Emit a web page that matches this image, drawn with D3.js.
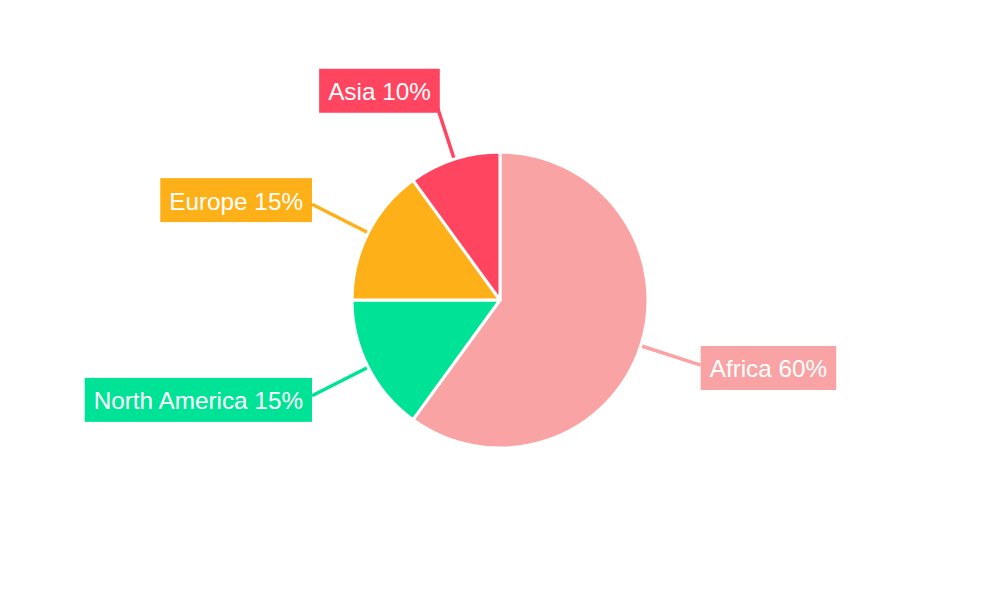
<!DOCTYPE html>
<html>
<head>
<meta charset="utf-8">
<script src="https://cdn.jsdelivr.net/npm/d3@7/dist/d3.min.js"></script>
<style>
  html, body { margin: 0; padding: 0; background: #fff; }
  svg { display: block; font-family: "Liberation Sans", Arial, sans-serif; }
</style>
</head>
<body>
<svg id="chart" width="1000" height="600"></svg>
<script>
const categories = ["Africa", "North America", "Europe", "Asia"];
const values = [60, 15, 15, 10];
const colors = ["#F9A3A4", "#00E396", "#FEB019", "#FF4560"];

const svg = d3.select("#chart");
const cx = 500, cy = 300, R = 148;
const lineR = 211, labelYR = 220;
const fontSize = 24.3, padX = 9, boxH = 44;

const data = categories.map((c, i) => ({ name: c, value: values[i], color: colors[i] }));
const pie = d3.pie().sort(null).value(d => d.value).startAngle(0).endAngle(2 * Math.PI);
const arcs = pie(data);

const g = svg.append("g").attr("transform", `translate(${cx},${cy})`);
const arc = d3.arc().innerRadius(0).outerRadius(R);
const edgeArc = d3.arc().innerRadius(R).outerRadius(R);
const lineArc = d3.arc().innerRadius(lineR).outerRadius(lineR);

// connector lines
g.selectAll("line.conn").data(arcs).join("line")
  .attr("class", "conn")
  .attr("x1", d => edgeArc.centroid(d)[0])
  .attr("y1", d => edgeArc.centroid(d)[1])
  .attr("x2", d => lineArc.centroid(d)[0])
  .attr("y2", d => lineArc.centroid(d)[1])
  .attr("stroke", d => d.data.color)
  .attr("stroke-width", 3.5);

// slices
g.selectAll("path.slice").data(arcs).join("path")
  .attr("class", "slice")
  .attr("d", arc)
  .attr("fill", d => d.data.color)
  .attr("stroke", "#fff")
  .attr("stroke-width", 3)
  .attr("stroke-linejoin", "round");

// labels
const lab = g.selectAll("g.lab").data(arcs).join("g").attr("class", "lab");
lab.each(function(d) {
  const el = d3.select(this);
  const mid = (d.startAngle + d.endAngle) / 2;
  const p = lineArc.centroid(d);
  const yc = -labelYR * Math.cos(mid);
  const txt = el.append("text")
    .attr("font-size", fontSize)
    .attr("fill", "#fff")
    .attr("dominant-baseline", "central")
    .text(`${d.data.name} ${d.data.value}%`);
  const w = txt.node().getComputedTextLength() + 2 * padX;
  const right = mid < Math.PI;
  // labels near the top slide slightly toward the slice
  const nudge = Math.abs(Math.cos(mid)) > 0.9 ? 5 : 0;
  const x0 = right ? p[0] - nudge : p[0] - w + nudge;
  el.insert("rect", "text")
    .attr("x", x0).attr("y", yc - boxH / 2)
    .attr("width", w).attr("height", boxH)
    .attr("fill", d.data.color);
  txt.attr("x", x0 + padX).attr("y", yc + 1);
});
</script>
</body>
</html>
